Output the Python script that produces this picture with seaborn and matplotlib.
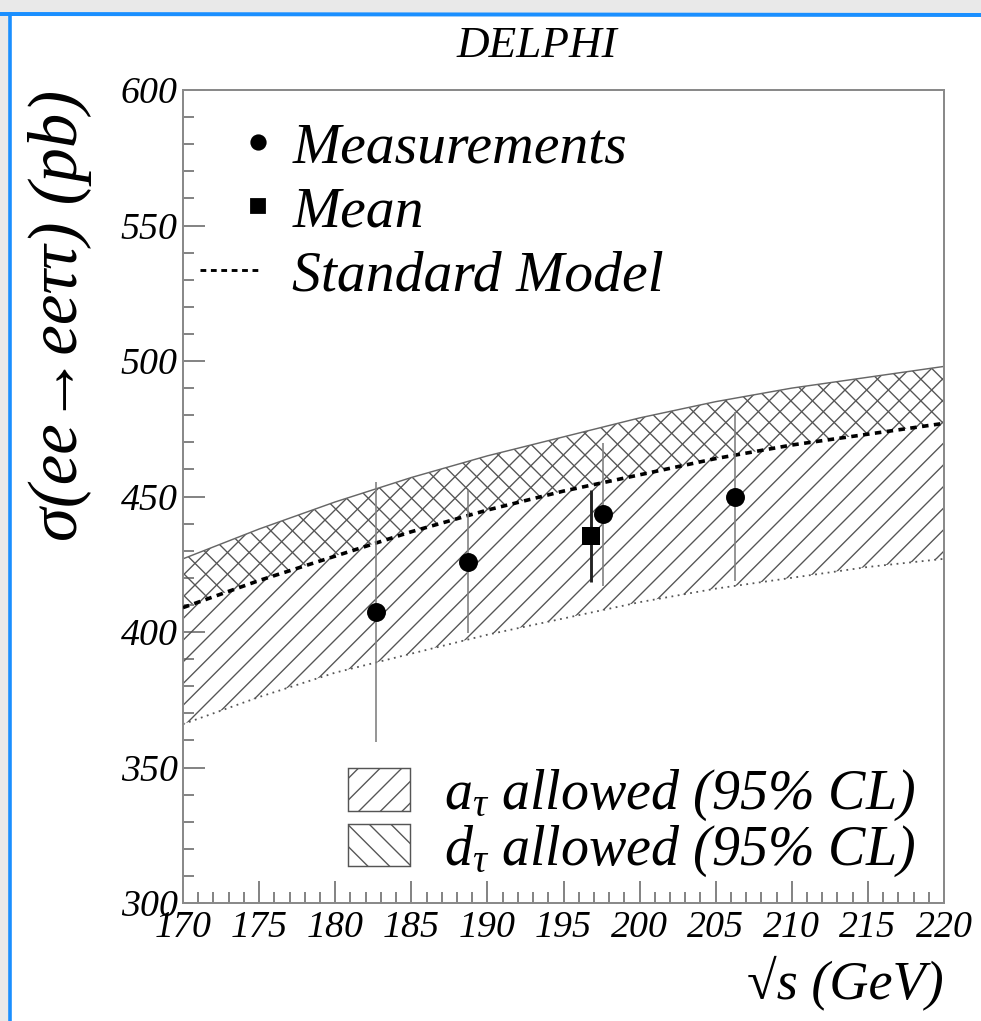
import numpy as np
import matplotlib
matplotlib.use("Agg")
import matplotlib.pyplot as plt
import seaborn as sns
from matplotlib.lines import Line2D
from matplotlib.patches import Patch, Rectangle
from matplotlib.legend_handler import HandlerLine2D
from matplotlib.ticker import MultipleLocator

# ---------------- data ----------------
energy = [170, 175, 180, 185, 190, 195, 200, 205, 210, 215, 220]
sm_xsec = [409, 419, 428, 437, 445, 452, 458, 464, 469, 473, 477]
band_upper = [427, 438, 448, 457, 465, 472, 479, 485, 490, 494, 498]
band_lower = [366, 376, 385, 392, 399, 405, 411, 416, 420, 424, 427]

meas_x = [182.7, 188.7, 197.6, 206.3]
meas_y = [407.5, 426.0, 443.4, 450.0]
meas_err = [48.0, 26.5, 26.5, 31.0]

mean_x = [196.8]
mean_y = [435.5]
mean_err = [17.0]

legend_labels = ["Measurements", "Mean", "Standard Model"]
band_labels = [r"$a_{\tau}$ allowed (95% CL)", r"$d_{\tau}$ allowed (95% CL)"]

# ---------------- style ----------------
DPI = 130
sns.set_style("ticks")
plt.rcParams["font.family"] = ["Liberation Serif", "DejaVu Serif"]
plt.rcParams["font.style"] = "italic"
plt.rcParams["text.color"] = "black"
plt.rcParams["axes.labelcolor"] = "black"
plt.rcParams["xtick.labelcolor"] = "black"
plt.rcParams["ytick.labelcolor"] = "black"
plt.rcParams["mathtext.fontset"] = "custom"
plt.rcParams["mathtext.it"] = "Liberation Serif:italic"
plt.rcParams["mathtext.rm"] = "Liberation Serif:italic"
plt.rcParams["hatch.linewidth"] = 0.75
plt.rcParams["hatch.color"] = "#555555"

fig = plt.figure(figsize=(981 / DPI, 1021 / DPI), dpi=DPI, facecolor="white")

# screenshot frame (grey margin + blue edge)
fig.patches.append(Rectangle((0, 1 - 13 / 1021), 1, 13 / 1021, transform=fig.transFigure,
                             facecolor="#e9e9e9", edgecolor="none", zorder=-5))
fig.patches.append(Rectangle((0, 0), 9 / 981, 1, transform=fig.transFigure,
                             facecolor="#e9e9e9", edgecolor="none", zorder=-5))
fig.lines.append(Line2D([0, 1], [1 - 14 / 1021, 1 - 15 / 1021], transform=fig.transFigure,
                        color="#1a8fff", lw=2.2))
fig.lines.append(Line2D([10 / 981, 10 / 981], [0, 1 - 14 / 1021], transform=fig.transFigure,
                        color="#1a8fff", lw=2.0))

ax = fig.add_axes([183 / 981, 1 - 903 / 1021, (944 - 183) / 981, (903 - 90) / 1021])

# bands
ax.fill_between(energy, band_lower, band_upper, facecolor="none", edgecolor="#555555",
                hatch="//", linewidth=0, zorder=1)
ax.fill_between(energy, sm_xsec, band_upper, facecolor="none", edgecolor="#555555",
                hatch="\\\\", linewidth=0, zorder=1)
sns.lineplot(x=energy, y=band_upper, ax=ax, color="#666666", lw=0.8, zorder=2)
sns.lineplot(x=energy, y=band_lower, ax=ax, color="#555555", lw=1.0,
             linestyle=(0, (1, 2.5)), zorder=2)
sns.lineplot(x=energy, y=sm_xsec, ax=ax, color="black", lw=2.0,
             linestyle=(0, (1.8, 1.5)), zorder=3)

# error bars
ax.errorbar(meas_x, meas_y, yerr=meas_err, fmt="none", ecolor="#808080", elinewidth=0.9,
            capsize=0, zorder=4)
ax.errorbar(mean_x, mean_y, yerr=mean_err, fmt="none", ecolor="#222222", elinewidth=1.6,
            capsize=0, zorder=4)
sns.scatterplot(x=meas_x, y=meas_y, ax=ax, marker="o", s=110, color="black",
                edgecolor="black", linewidth=0, zorder=5, legend=False)
sns.scatterplot(x=mean_x, y=mean_y, ax=ax, marker="s", s=100, color="black",
                edgecolor="black", linewidth=0, zorder=5, legend=False)

# axes
ax.set_xlim(170, 220)
ax.set_ylim(300, 600)
ax.xaxis.set_major_locator(MultipleLocator(5))
ax.xaxis.set_minor_locator(MultipleLocator(1))
ax.yaxis.set_major_locator(MultipleLocator(50))
ax.yaxis.set_minor_locator(MultipleLocator(10))
for s in ax.spines.values():
    s.set_color("#8a8a8a")
    s.set_linewidth(1.1)
ax.tick_params(which="both", direction="in", color="#6a6a6a", width=0.9,
               top=False, right=False, labelsize=21, labelcolor="black")
ax.tick_params(which="major", length=12)
ax.tick_params(which="minor", length=6)
ax.tick_params(axis="x", pad=4)
ax.tick_params(axis="y", pad=3)

ax.set_xlabel("√s (GeV)", fontsize=30, loc="right", labelpad=6)
ax.set_ylabel("σ(ee→eeττ) (pb)", fontsize=38, loc="top", labelpad=16)
fig.text(537 / 981, 1 - 46 / 1021, "DELPHI", ha="center", va="center", fontsize=25)


class RightMarker(HandlerLine2D):
    def create_artists(self, legend, orig_handle, xdescent, ydescent, width, height,
                       fontsize, trans):
        y = (height - ydescent) / 2
        x = -xdescent + width
        ln = Line2D([x], [y], marker=orig_handle.get_marker(),
                    markersize=orig_handle.get_markersize(), color="black",
                    linestyle="none")
        ln.set_transform(trans)
        return [ln]


h_meas = Line2D([], [], marker="o", color="black", linestyle="none", markersize=8)
h_mean = Line2D([], [], marker="s", color="black", linestyle="none", markersize=7.5)
h_sm = Line2D([], [], color="black", lw=1.6, linestyle=(0, (2.0, 1.6)))
leg1 = ax.legend([h_meas, h_mean, h_sm], legend_labels, loc="upper left",
                 bbox_to_anchor=(0.022, 0.961), frameon=False, fontsize=32,
                 handlelength=1.0, handletextpad=0.6, labelspacing=0.2,
                 borderpad=0, borderaxespad=0,
                 handler_map={h_meas: RightMarker(), h_mean: RightMarker()})
ax.add_artist(leg1)

p_a = Patch(facecolor="white", edgecolor="#555555", hatch="//", lw=0.8)
p_d = Patch(facecolor="white", edgecolor="#555555", hatch="\\\\", lw=0.8)
ax.legend([p_a, p_d], band_labels, loc="lower left", bbox_to_anchor=(0.217, 0.03),
          frameon=False, fontsize=31, handlelength=1.1, handleheight=0.8,
          handletextpad=0.62, labelspacing=0.0, borderpad=0, borderaxespad=0)

fig.savefig("out.png", dpi=DPI, facecolor="white")
